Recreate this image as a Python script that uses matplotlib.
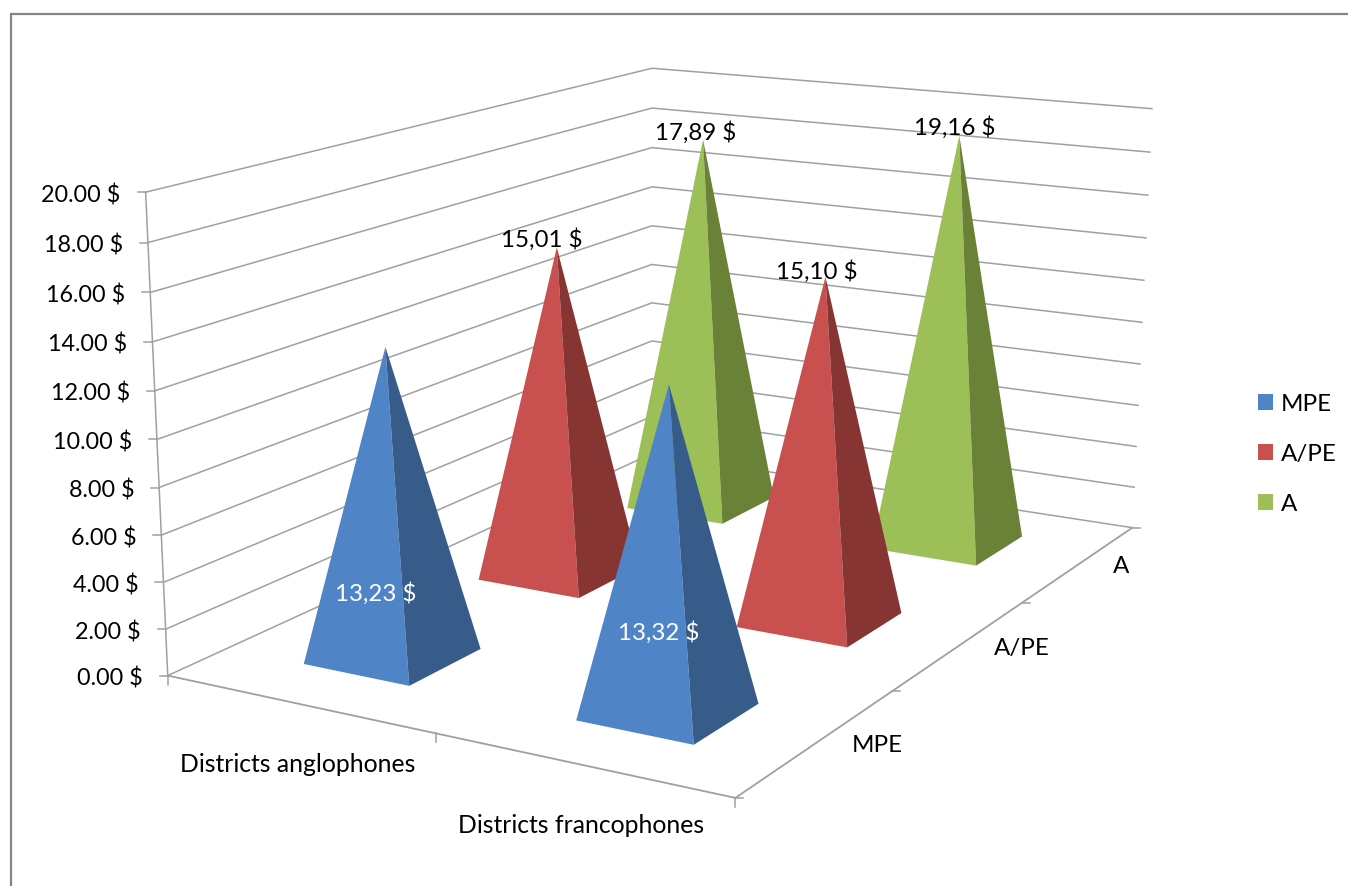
"""3D pyramid chart redrawn on a flat axes, with a small camera fitted to the frame."""
import matplotlib
matplotlib.use("Agg")
import matplotlib.pyplot as plt
import numpy as np
from matplotlib.patches import Patch, Polygon

plt.rcParams["font.family"] = ["Lato", "DejaVu Sans"]

districts = ["Districts anglophones", "Districts francophones"]
series = ["MPE", "A/PE", "A"]
mpe = [13.23, 13.32]
ape = [15.01, 15.10]
a = [17.89, 19.16]
value_ticks = [0, 2, 4, 6, 8, 10, 12, 14, 16, 18, 20]

front_colors = ["#4F84C6", "#C8504E", "#9CBF58"]
side_colors = ["#375C8A", "#873533", "#6A8238"]
GRID = "#A0A0A0"
FS_TICK = 16.8
FS = 17.4
FS_DISTRICT = 17.8

# label offsets from each apex, in pixels: [series][district]
label_offsets = [[(-10, 247), (-10, 248)], [(-15, -8), (-9, -5)], [(-7, -7), (-5, -8)]]

# frame corners as (category, depth, value) -> pixel, used to fit the camera
frame_world = np.array([
    (0, 0, 0), (0, 0, 20), (0, 0, 10), (1, 0, 0), (2, 0, 0), (2, 1, 0), (2, 2, 0),
    (2, 3, 0), (2, 3, 10), (2, 3, 20), (0, 3, 20), (0, 3, 10), (0, 3, 6),
], dtype=float)
frame_px = np.array([
    (168, 676), (146, 191), (157, 439), (436, 735), (737, 798), (887, 691), (1024, 602),
    (1132, 527), (1143, 323), (1152, 109), (651, 69), (652, 264), (652, 341),
], dtype=float)


def fit_camera(world, px):
    rows = []
    for (x, y, z), (u, v) in zip(world, px):
        rows.append([x, y, z, 1, 0, 0, 0, 0, -u * x, -u * y, -u * z, -u])
        rows.append([0, 0, 0, 0, x, y, z, 1, -v * x, -v * y, -v * z, -v])
    return np.linalg.svd(np.array(rows))[2][-1].reshape(3, 4)


CAM = fit_camera(frame_world, frame_px)


def proj(x, y, z):
    u, v, w = CAM @ np.array([x, y, z, 1.0])
    return u / w, v / w


fig = plt.figure(figsize=(13.48, 8.86), dpi=100)
ax = fig.add_axes([0, 0, 1, 1])
ax.set_xlim(0, 1348)
ax.set_ylim(886, 0)
ax.axis("off")

# chart border
ax.plot([11, 11, 1348], [886, 14, 14], color="#868686", lw=1.6, solid_joinstyle="miter")

# walls
for v in value_ticks:
    pts = [proj(0, 0, v), proj(0, 3, v), proj(2, 3, v)]
    ax.plot(*zip(*pts), color=GRID, lw=1.1, zorder=1)
    x0, y0 = proj(0, 0, v)
    ax.plot([x0 - 8, x0], [y0, y0], color=GRID, lw=1.1, zorder=1)
    ax.text(x0 - 25, y0 + 3, f"{v:.2f} $", ha="right", va="center", fontsize=FS_TICK, color="black")

# axis lines
ax.plot(*zip(proj(0, 0, 0), proj(0, 0, 20)), color=GRID, lw=1.1, zorder=1)
ax.plot(*zip(proj(0, 0, 0), proj(2, 0, 0)), color=GRID, lw=1.3, zorder=1)
ax.plot(*zip(proj(2, 0, 0), proj(2, 3, 0)), color=GRID, lw=1.3, zorder=1)
for i in range(3):
    x0, y0 = proj(i, 0, 0)
    ax.plot([x0, x0], [y0, y0 + 9], color=GRID, lw=1.1, zorder=1)
for j in range(4):
    x0, y0 = proj(2, j, 0)
    ax.plot([x0, x0 + 8], [y0, y0], color=GRID, lw=1.1, zorder=1)

# category labels
for i, name in enumerate(districts):
    x0, y0 = proj(i + 0.5, 0, 0)
    ax.text(x0, y0 + 61, name, ha="center", va="center", fontsize=FS_DISTRICT, color="black")
for j, name in enumerate(series):
    x0, y0 = proj(2, j + 0.5, 0)
    ax.text(x0 + 34, y0 + 3, name, ha="left", va="center", fontsize=FS, color="black")

# pyramids, back to front
half = 0.2
label_colors = ["white", "black", "black"]
for j, vals in reversed(list(enumerate([mpe, ape, a]))):
    for i, val in enumerate(vals):
        cx, cy = i + 0.5, j + 0.5
        apex = proj(cx, cy, val)
        fl = proj(cx - half, cy - half, 0)
        fr = proj(cx + half, cy - half, 0)
        br = proj(cx + half, cy + half, 0)
        ax.add_patch(Polygon([apex, fl, fr], closed=True, fc=front_colors[j], ec="none", zorder=6 - j))
        ax.add_patch(Polygon([apex, fr, br], closed=True, fc=side_colors[j], ec="none", zorder=6 - j))
        dx, dy = label_offsets[j][i]
        text = f"{val:.2f} $".replace(".", ",")
        ax.text(apex[0] + dx, apex[1] + dy, text, ha="center", va="center",
                fontsize=FS, color=label_colors[j], zorder=10)

handles = [Patch(fc=c, ec="none") for c in front_colors]
ax.legend(handles, series, loc="center left", bbox_to_anchor=(1258 / 1348, 1 - 454 / 886),
          frameon=False, fontsize=FS, handlelength=0.63, handleheight=0.63,
          handletextpad=0.33, labelspacing=1.2, borderpad=0, borderaxespad=0)

fig.savefig("out.png", dpi=100)
